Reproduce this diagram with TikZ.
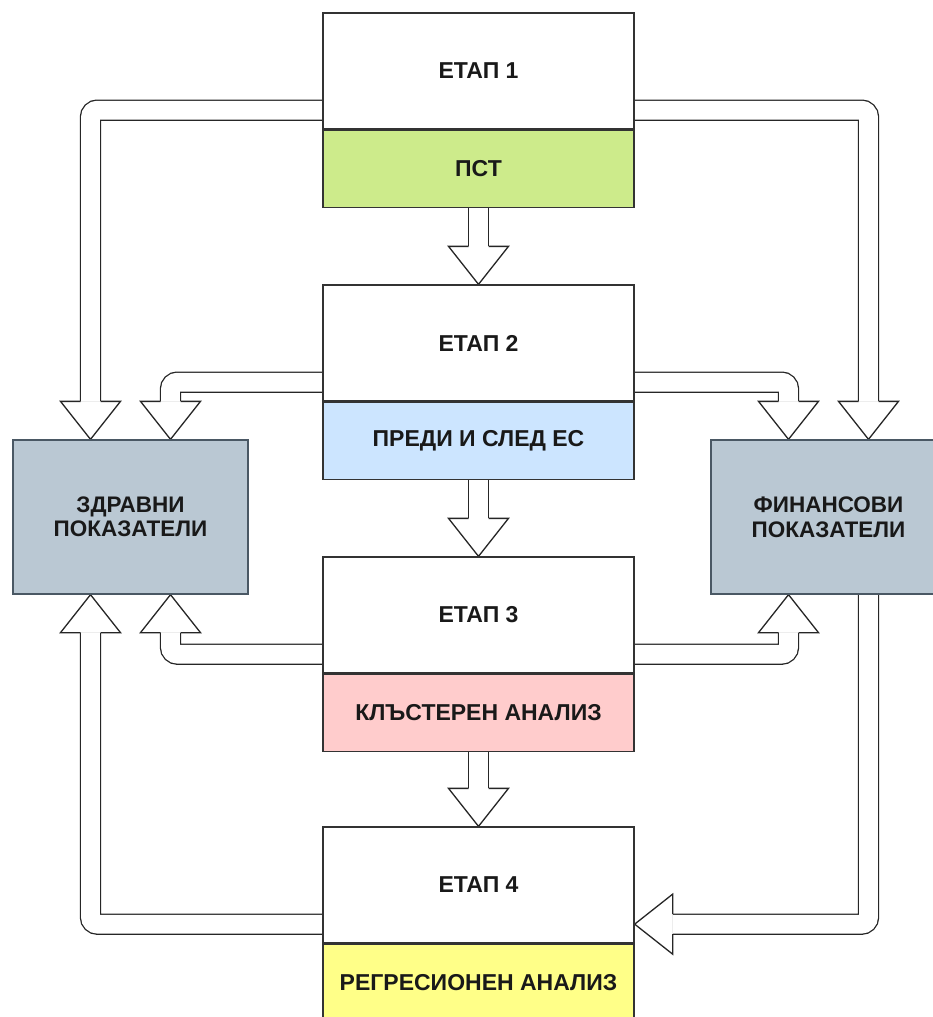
\documentclass[tikz,border=0pt]{standalone}
\usepackage{fontspec}
\setmainfont{Liberation Sans}
\usetikzlibrary{calc}
\usepackage{xcolor}

\definecolor{pstgreen}{HTML}{CDEB8B}
\definecolor{predblue}{HTML}{CCE5FF}
\definecolor{klaspink}{HTML}{FFCCCC}
\definecolor{regryellow}{HTML}{FFFF88}
\definecolor{indgray}{HTML}{BAC8D3}
\definecolor{indline}{HTML}{4A5864}

\pgfdeclarelayer{background}
\pgfsetlayers{background,main}

\begin{document}
\begin{tikzpicture}[x=1pt,y=-1pt,line join=miter,
  stage/.style={draw=black!80,line width=1.3pt,fill=white,inner sep=0pt,text=black!90,
    minimum width=311pt,minimum height=116pt,font=\fontsize{23}{25}\selectfont\bfseries},
  method/.style={stage,minimum height=77pt},
  indic/.style={draw=indline,line width=1.3pt,fill=indgray,inner sep=0pt,align=center,text=black!90,
    minimum width=235pt,minimum height=154pt,font=\fontsize{22.5}{24.5}\selectfont\bfseries},
  shaft/.style={draw=black!85,line width=1.3pt,double=white,double distance=18.7pt,rounded corners=7pt},
  head/.style={draw=black!85,line width=1.3pt,fill=white}]
\useasboundingbox (0,0) rectangle (933,1017);

% stages
\node[stage] (st1) at (478.5,71) {ЕТАП 1};
\node[method,fill=pstgreen,anchor=north] (pst) at (st1.south) {ПСТ};
\node[stage] (st2) at (478.5,343) {ЕТАП 2};
\node[method,fill=predblue,anchor=north] (pred) at (st2.south) {ПРЕДИ И СЛЕД ЕС};
\node[stage] (st3) at (478.5,615) {ЕТАП 3};
\node[method,fill=klaspink,anchor=north] (klas) at (st3.south) {КЛЪСТЕРЕН АНАЛИЗ};
\node[stage] (st4) at (478.5,885) {ЕТАП 4};
\node[method,fill=regryellow,anchor=north] (regr) at (st4.south) {РЕГРЕСИОНЕН АНАЛИЗ};

% indicators
\node[indic] (zdr) at (130.5,517) {ЗДРАВНИ\\ПОКАЗАТЕЛИ};
\node[indic] (fin) at (828.5,517) {ФИНАНСОВИ\\ПОКАЗАТЕЛИ};

% arrow ends
\coordinate (m1w) at ($(st1.north west)!.5!(pst.south west)$);
\coordinate (m1e) at ($(st1.north east)!.5!(pst.south east)$);
\coordinate (m2w) at ($(st2.north west)!.5!(pred.south west)$);
\coordinate (m2e) at ($(st2.north east)!.5!(pred.south east)$);
\coordinate (m3w) at ($(klas.south west)!.5!(st3.north west)$);
\coordinate (m3e) at ($(klas.south east)!.5!(st3.north east)$);
\coordinate (m4w) at ($(st4.north west)!.5!(regr.south west)$);
\coordinate (m4e) at ($(st4.north east)!.5!(regr.south east)$);
\coordinate (zt1) at ($(zdr.north)+(-40,0)$);
\coordinate (zt2) at ($(zdr.north)+(40,0)$);
\coordinate (zb1) at ($(zdr.south)+(-40,0)$);
\coordinate (zb2) at ($(zdr.south)+(40,0)$);
\coordinate (ft1) at ($(fin.north)+(-40,0)$);
\coordinate (ft2) at ($(fin.north)+(40,0)$);
\coordinate (fb1) at ($(fin.south)+(-40,0)$);
\coordinate (fb2) at ($(fin.south)+(40,0)$);

\begin{pgfonlayer}{background}
% stage to stage
\draw[shaft] (pst.south) -- ($(st2.north)+(0,-38)$);
\draw[head] ($(st2.north)+(-10,-38)$) -- ($(st2.north)+(-30,-38)$) -- (st2.north) -- ($(st2.north)+(30,-38)$) -- ($(st2.north)+(10,-38)$);
\draw[shaft] (pred.south) -- ($(st3.north)+(0,-38)$);
\draw[head] ($(st3.north)+(-10,-38)$) -- ($(st3.north)+(-30,-38)$) -- (st3.north) -- ($(st3.north)+(30,-38)$) -- ($(st3.north)+(10,-38)$);
\draw[shaft] (klas.south) -- ($(st4.north)+(0,-38)$);
\draw[head] ($(st4.north)+(-10,-38)$) -- ($(st4.north)+(-30,-38)$) -- (st4.north) -- ($(st4.north)+(30,-38)$) -- ($(st4.north)+(10,-38)$);

% down into the indicators
\draw[shaft] (m1w) -| ($(zt1)+(0,-38)$);
\draw[head] ($(zt1)+(-10,-38)$) -- ($(zt1)+(-30,-38)$) -- (zt1) -- ($(zt1)+(30,-38)$) -- ($(zt1)+(10,-38)$);
\draw[shaft] (m2w) -| ($(zt2)+(0,-38)$);
\draw[head] ($(zt2)+(-10,-38)$) -- ($(zt2)+(-30,-38)$) -- (zt2) -- ($(zt2)+(30,-38)$) -- ($(zt2)+(10,-38)$);
\draw[shaft] (m2e) -| ($(ft1)+(0,-38)$);
\draw[head] ($(ft1)+(-10,-38)$) -- ($(ft1)+(-30,-38)$) -- (ft1) -- ($(ft1)+(30,-38)$) -- ($(ft1)+(10,-38)$);
\draw[shaft] (m1e) -| ($(ft2)+(0,-38)$);
\draw[head] ($(ft2)+(-10,-38)$) -- ($(ft2)+(-30,-38)$) -- (ft2) -- ($(ft2)+(30,-38)$) -- ($(ft2)+(10,-38)$);

% up into the indicators
\draw[shaft] (m4w) -| ($(zb1)+(0,38)$);
\draw[head] ($(zb1)+(-10,38)$) -- ($(zb1)+(-30,38)$) -- (zb1) -- ($(zb1)+(30,38)$) -- ($(zb1)+(10,38)$);
\draw[shaft] (m3w) -| ($(zb2)+(0,38)$);
\draw[head] ($(zb2)+(-10,38)$) -- ($(zb2)+(-30,38)$) -- (zb2) -- ($(zb2)+(30,38)$) -- ($(zb2)+(10,38)$);
\draw[shaft] (m3e) -| ($(fb1)+(0,38)$);
\draw[head] ($(fb1)+(-10,38)$) -- ($(fb1)+(-30,38)$) -- (fb1) -- ($(fb1)+(30,38)$) -- ($(fb1)+(10,38)$);

% back to stage 4
\draw[shaft] (fb2) |- ($(m4e)+(38,0)$);
\draw[head] ($(m4e)+(38,-10)$) -- ($(m4e)+(38,-30)$) -- (m4e) -- ($(m4e)+(38,30)$) -- ($(m4e)+(38,10)$);
\end{pgfonlayer}
\end{tikzpicture}
\end{document}
